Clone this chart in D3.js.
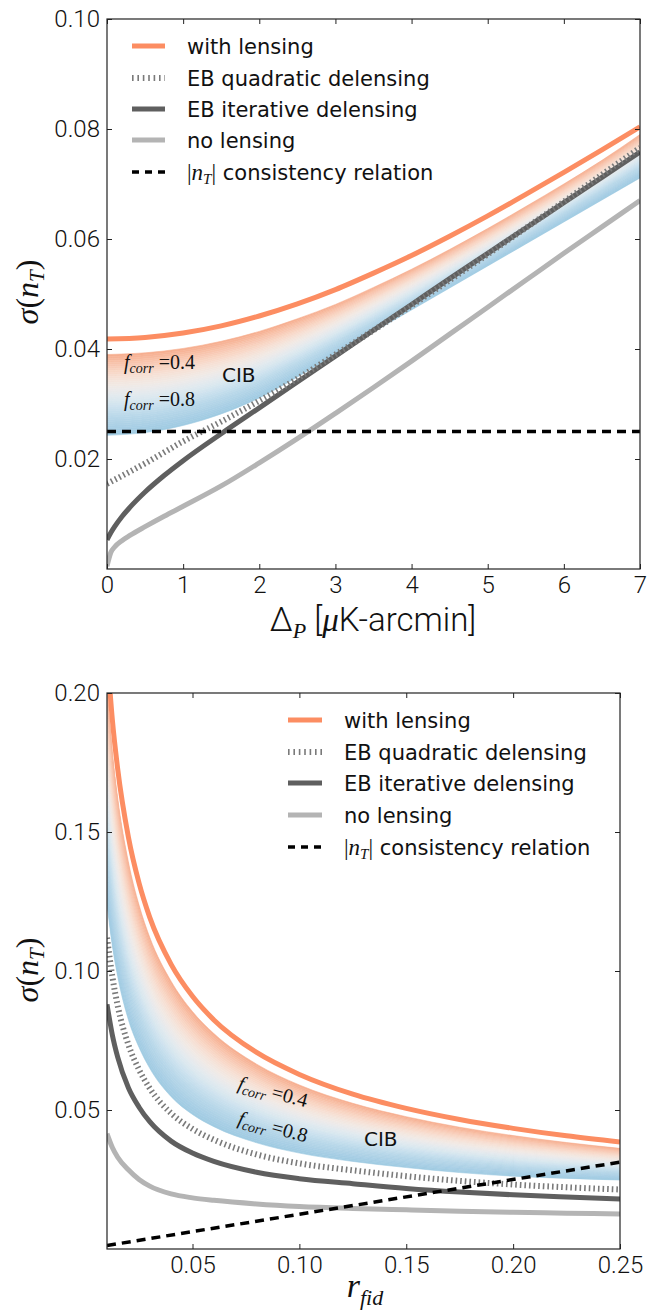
<!DOCTYPE html>
<html>
<head>
<meta charset="utf-8">
<script src="https://cdn.jsdelivr.net/npm/d3@7"></script>
<style>
    body { margin: 0; background: #fff; }
    svg { display: block; }
</style>
</head>
<body>
<div id="chart"></div>
<script>
// ---- top panel: sigma(n_T) vs Delta_P ----
const dP = [0, 0.5, 1, 1.5, 2, 2.5, 3, 3.5, 4, 4.5, 5, 5.5, 6, 6.5, 7];
const topWithLensing = [0.0418, 0.0421, 0.0429, 0.0442, 0.0460, 0.0482, 0.0508, 0.0538, 0.0570, 0.0605, 0.0642, 0.0681, 0.0721, 0.0762, 0.0804];
const topCibUpper = [0.0390, 0.0393, 0.0401, 0.0414, 0.0432, 0.0455, 0.0481, 0.0512, 0.0545, 0.0581, 0.0619, 0.0659, 0.0700, 0.0743, 0.0790];
const topCibLower = [0.0243, 0.0248, 0.0261, 0.0282, 0.0311, 0.0349, 0.0390, 0.0431, 0.0471, 0.0511, 0.0551, 0.0591, 0.0631, 0.0671, 0.0711];
const topQuadratic = [0.0155, 0.0192, 0.0232, 0.0268, 0.0306, 0.0346, 0.0390, 0.0434, 0.0479, 0.0525, 0.0572, 0.0620, 0.0668, 0.0717, 0.0766];

const dPFine = [0, 0.05, 0.1, 0.2, 0.3, 0.5, 0.75, 1, 1.5, 2, 2.5, 3, 3.5, 4, 4.5, 5, 5.5, 6, 6.5, 7];
const topIterative = [0.0053, 0.0066, 0.0077, 0.0096, 0.0112, 0.0140, 0.0170, 0.0197, 0.0246, 0.0293, 0.0340, 0.0387, 0.0434, 0.0481, 0.0528, 0.0574, 0.0620, 0.0666, 0.0712, 0.0758];
const topNoLensing = [0.0005, 0.0030, 0.0040, 0.0052, 0.0061, 0.0077, 0.0096, 0.0114, 0.0151, 0.0193, 0.0237, 0.0283, 0.0330, 0.0378, 0.0427, 0.0476, 0.0525, 0.0574, 0.0622, 0.0670];

const topConsistX = [0, 7];
const topConsist = [0.025, 0.025];

const topXTicks = [0, 1, 2, 3, 4, 5, 6, 7];
const topYTicks = [0.02, 0.04, 0.06, 0.08, 0.10];

// ---- bottom panel: sigma(n_T) vs r_fid ----
const rFid = [0.01, 0.0125, 0.015, 0.02, 0.025, 0.03, 0.04, 0.05, 0.06, 0.08, 0.10, 0.125, 0.15, 0.175, 0.20, 0.225, 0.25];
const botWithLensing = [0.2154, 0.1904, 0.1727, 0.1482, 0.1316, 0.1193, 0.1024, 0.0909, 0.0824, 0.0707, 0.0628, 0.0557, 0.0506, 0.0466, 0.0434, 0.0407, 0.0385];
const botCibUpper = [0.2025, 0.1790, 0.1623, 0.1393, 0.1237, 0.1121, 0.0963, 0.0854, 0.0775, 0.0665, 0.0590, 0.0524, 0.0476, 0.0438, 0.0408, 0.0383, 0.0362];
const botCibLower = [0.1240, 0.1090, 0.0980, 0.0825, 0.0725, 0.0650, 0.0548, 0.0484, 0.0440, 0.0382, 0.0345, 0.0315, 0.0293, 0.0275, 0.0262, 0.0254, 0.0248];
const botQuadratic = [0.1120, 0.0980, 0.0875, 0.0735, 0.0645, 0.0578, 0.0488, 0.0432, 0.0393, 0.0340, 0.0308, 0.0283, 0.0262, 0.0245, 0.0232, 0.0222, 0.0214];
const botIterative = [0.0880, 0.0770, 0.0690, 0.0580, 0.0510, 0.0458, 0.0388, 0.0345, 0.0315, 0.0276, 0.0253, 0.0235, 0.0218, 0.0205, 0.0195, 0.0187, 0.0180];
const botNoLensing = [0.0415, 0.0365, 0.0330, 0.0285, 0.0250, 0.0226, 0.0198, 0.0184, 0.0175, 0.0162, 0.0153, 0.0146, 0.0141, 0.0136, 0.0132, 0.0129, 0.0126];

const botConsistX = [0.01, 0.25];
const botConsist = [0.00125, 0.03125];

const botXTicks = [0.05, 0.10, 0.15, 0.20, 0.25];
const botYTicks = [0.05, 0.10, 0.15, 0.20];

const legendLabels = ["with lensing", "EB quadratic delensing", "EB iterative delensing", "no lensing", "consistency relation"];

// styles
const ORANGE = "#fc8d62";
const DARK = "#5f5f5f";
const LIGHT = "#b4b4b4";
const DOTTED = "#7a7a7a";
const TICK_FONT = "Roboto, 'Liberation Sans', sans-serif";
const LEG_FONT = "'DejaVu Sans', sans-serif";
const MATH_FONT = "'Liberation Serif', serif";

const bandColor = d3.interpolateRgbBasis(["#f6ac8d", "#fad7c5", "#f3eeeb", "#d7e8f2", "#b3d5e8", "#9fcae2"]);

const svg = d3
    .select("#chart")
    .append("svg")
    .attr("width", 660)
    .attr("height", 1312);

function zipXY(xs, ys) {
    return xs.map((x, i) => [x, ys[i]]);
}

function drawPanel(cfg) {
    const x = d3.scaleLinear().domain(cfg.xDomain).range([cfg.left, cfg.right]);
    const y = d3.scaleLinear().domain(cfg.yDomain).range([cfg.bottom, cfg.top]);

    const clipId = "clip-" + cfg.name;
    svg.append("clipPath")
        .attr("id", clipId)
        .append("rect")
        .attr("x", cfg.left)
        .attr("y", cfg.top)
        .attr("width", cfg.right - cfg.left)
        .attr("height", cfg.bottom - cfg.top);

    const plot = svg.append("g").attr("clip-path", `url(#${clipId})`);

    // CIB band, drawn as thin stripes between the two edges
    const nStripes = 40;
    for (let i = 0; i < nStripes; i++) {
        const t0 = i / nStripes;
        const t1 = (i + 1) / nStripes;
        const col = bandColor((t0 + t1) / 2);
        const area = d3
            .area()
            .x((d, j) => x(cfg.bandX[j]))
            .y0((d, j) => y(cfg.bandUpper[j] + (cfg.bandLower[j] - cfg.bandUpper[j]) * t0))
            .y1((d, j) => y(cfg.bandUpper[j] + (cfg.bandLower[j] - cfg.bandUpper[j]) * t1))
            .curve(d3.curveMonotoneX);
        plot.append("path")
            .datum(cfg.bandX)
            .attr("d", area)
            .attr("fill", col)
            .attr("stroke", col)
            .attr("stroke-width", 0.6);
    }

    const line = d3
        .line()
        .x((d) => x(d[0]))
        .y((d) => y(d[1]))
        .curve(d3.curveMonotoneX);

    // Curves
    plot.append("path")
        .datum(zipXY(cfg.noLensX, cfg.noLensing))
        .attr("d", line)
        .attr("fill", "none")
        .attr("stroke", LIGHT)
        .attr("stroke-width", 5);

    plot.append("path")
        .datum(zipXY(cfg.mainX, cfg.withLensing))
        .attr("d", line)
        .attr("fill", "none")
        .attr("stroke", ORANGE)
        .attr("stroke-width", 5);

    plot.append("path")
        .datum(zipXY(cfg.iterX, cfg.iterative))
        .attr("d", line)
        .attr("fill", "none")
        .attr("stroke", DARK)
        .attr("stroke-width", 5);

    plot.append("path")
        .datum(zipXY(cfg.mainX, cfg.quadratic))
        .attr("d", line)
        .attr("fill", "none")
        .attr("stroke", DOTTED)
        .attr("stroke-width", 6)
        .attr("stroke-dasharray", "1.6,3");

    plot.append("path")
        .datum(zipXY(cfg.consistX, cfg.consist))
        .attr("d", d3.line().x((d) => x(d[0])).y((d) => y(d[1])))
        .attr("fill", "none")
        .attr("stroke", "#000")
        .attr("stroke-width", 3.5)
        .attr("stroke-dasharray", "9,6");

    // Axes: ticks point inward on all four sides
    const fmt = cfg.xFormat;
    const gb = svg.append("g")
        .attr("transform", `translate(0,${cfg.bottom})`)
        .call(d3.axisBottom(x).tickValues(cfg.xTicks).tickFormat(fmt).tickSize(-5).tickSizeOuter(0).tickPadding(7));
    const gt = svg.append("g")
        .attr("transform", `translate(0,${cfg.top})`)
        .call(d3.axisTop(x).tickValues(cfg.xTicks).tickFormat("").tickSize(-5).tickSizeOuter(0));
    const gl = svg.append("g")
        .attr("transform", `translate(${cfg.left},0)`)
        .call(d3.axisLeft(y).tickValues(cfg.yTicks).tickFormat(d3.format(".2f")).tickSize(-5).tickSizeOuter(0).tickPadding(7));
    const gr = svg.append("g")
        .attr("transform", `translate(${cfg.right},0)`)
        .call(d3.axisRight(y).tickValues(cfg.yTicks).tickFormat("").tickSize(-5).tickSizeOuter(0));

    [gb, gt, gl, gr].forEach((g) => {
        g.select(".domain").remove();
        g.selectAll(".tick line").attr("stroke", "#222").attr("stroke-width", 1);
        g.selectAll("text")
            .attr("font-family", TICK_FONT)
            .attr("font-weight", 300)
            .attr("font-size", 24)
            .attr("fill", "#111");
    });

    svg.append("rect")
        .attr("x", cfg.left)
        .attr("y", cfg.top)
        .attr("width", cfg.right - cfg.left)
        .attr("height", cfg.bottom - cfg.top)
        .attr("fill", "none")
        .attr("stroke", "#222")
        .attr("stroke-width", 1.2);

    return { x, y };
}

function drawLegend(lineX0, lineX1, textX, rows) {
    const styles = [
        { stroke: ORANGE, width: 5, dash: null },
        { stroke: DOTTED, width: 6, dash: "1.6,3.8" },
        { stroke: DARK, width: 5, dash: null },
        { stroke: LIGHT, width: 5, dash: null },
        { stroke: "#000", width: 3.5, dash: "7,6" },
    ];
    const g = svg.append("g");
    rows.forEach((ry, i) => {
        const s = styles[i];
        g.append("line")
            .attr("x1", lineX0)
            .attr("x2", lineX1)
            .attr("y1", ry)
            .attr("y2", ry)
            .attr("stroke", s.stroke)
            .attr("stroke-width", s.width)
            .attr("stroke-dasharray", s.dash);

        const t = g.append("text")
            .attr("x", textX)
            .attr("y", ry + 7.5)
            .attr("font-family", LEG_FONT)
            .attr("font-size", 21)
            .attr("fill", "#111");
        if (i === 4) {
            t.append("tspan").attr("font-family", MATH_FONT).attr("font-size", 23).text("|");
            t.append("tspan").attr("font-family", MATH_FONT).attr("font-style", "italic").attr("font-size", 23).text("n");
            t.append("tspan").attr("font-family", MATH_FONT).attr("font-style", "italic").attr("font-size", 15).attr("dy", 4).text("T");
            t.append("tspan").attr("font-family", MATH_FONT).attr("font-size", 23).attr("dy", -4).text("|");
            t.append("tspan").text(" " + legendLabels[i]);
        } else {
            t.text(legendLabels[i]);
        }
    });
}

function sigmaLabel(cx, cy) {
    const t = svg.append("text")
        .attr("transform", `translate(${cx},${cy}) rotate(-90)`)
        .attr("text-anchor", "middle")
        .attr("font-family", MATH_FONT)
        .attr("font-size", 32)
        .attr("fill", "#111");
    t.append("tspan").attr("font-style", "italic").text("σ");
    t.append("tspan").text("(");
    t.append("tspan").attr("font-style", "italic").text("n");
    t.append("tspan").attr("font-style", "italic").attr("font-size", 21).attr("dy", 6).text("T");
    t.append("tspan").attr("dy", -6).text(")");
}

function fcorrLabel(px, py, value, angle) {
    const t = svg.append("text")
        .attr("transform", `translate(${px},${py}) rotate(${angle})`)
        .attr("font-family", MATH_FONT)
        .attr("font-size", 20)
        .attr("fill", "#111");
    t.append("tspan").attr("font-style", "italic").text("f");
    t.append("tspan").attr("font-style", "italic").attr("font-size", 14).attr("dy", 4).text("corr");
    t.append("tspan").attr("dy", -4).text(" =" + value);
}

function cibLabel(px, py) {
    svg.append("text")
        .attr("x", px)
        .attr("y", py)
        .attr("font-family", LEG_FONT)
        .attr("font-size", 20)
        .attr("fill", "#111")
        .text("CIB");
}

function main() {
    drawPanel({
        name: "top",
        left: 107, right: 640, top: 19, bottom: 569,
        xDomain: [0, 7], yDomain: [0, 0.10],
        xTicks: topXTicks, yTicks: topYTicks, xFormat: d3.format("d"),
        mainX: dP, withLensing: topWithLensing, quadratic: topQuadratic,
        bandX: dP, bandUpper: topCibUpper, bandLower: topCibLower,
        iterX: dPFine, iterative: topIterative,
        noLensX: dPFine, noLensing: topNoLensing,
        consistX: topConsistX, consist: topConsist,
    });

    drawPanel({
        name: "bottom",
        left: 107, right: 620, top: 693, bottom: 1249,
        xDomain: [0.01, 0.25], yDomain: [0, 0.20],
        xTicks: botXTicks, yTicks: botYTicks, xFormat: d3.format(".2f"),
        mainX: rFid, withLensing: botWithLensing, quadratic: botQuadratic,
        bandX: rFid, bandUpper: botCibUpper, bandLower: botCibLower,
        iterX: rFid, iterative: botIterative,
        noLensX: rFid, noLensing: botNoLensing,
        consistX: botConsistX, consist: botConsist,
    });

    drawLegend(132, 165, 187, [46, 78, 109, 140, 172]);
    drawLegend(288, 322, 344, [720, 752, 783, 815, 847]);

    // annotations
    fcorrLabel(124, 369, "0.4", 0);
    fcorrLabel(124, 406, "0.8", 0);
    cibLabel(222, 382);
    fcorrLabel(237, 1089, "0.4", 15);
    fcorrLabel(237, 1124, "0.8", 15);
    cibLabel(364, 1146);

    // axis labels
    sigmaLabel(38, 292);
    sigmaLabel(38, 970);

    const xl = svg.append("text")
        .attr("x", 373)
        .attr("y", 631)
        .attr("text-anchor", "middle")
        .attr("font-family", TICK_FONT)
        .attr("font-weight", 300)
        .attr("font-size", 33)
        .attr("fill", "#111");
    xl.append("tspan").text("Δ");
    xl.append("tspan").attr("font-family", MATH_FONT).attr("font-style", "italic").attr("font-size", 22).attr("dy", 7).text("P");
    xl.append("tspan").attr("dy", -7).text(" [");
    xl.append("tspan").attr("font-family", MATH_FONT).attr("font-style", "italic").text("μ");
    xl.append("tspan").text("K-arcmin]");

    const rl = svg.append("text")
        .attr("x", 365)
        .attr("y", 1297)
        .attr("text-anchor", "middle")
        .attr("font-family", MATH_FONT)
        .attr("font-style", "italic")
        .attr("font-size", 34)
        .attr("fill", "#111");
    rl.append("tspan").text("r");
    rl.append("tspan").attr("font-size", 22).attr("dy", 8).text("fid");
}

main();
</script>
</body>
</html>
